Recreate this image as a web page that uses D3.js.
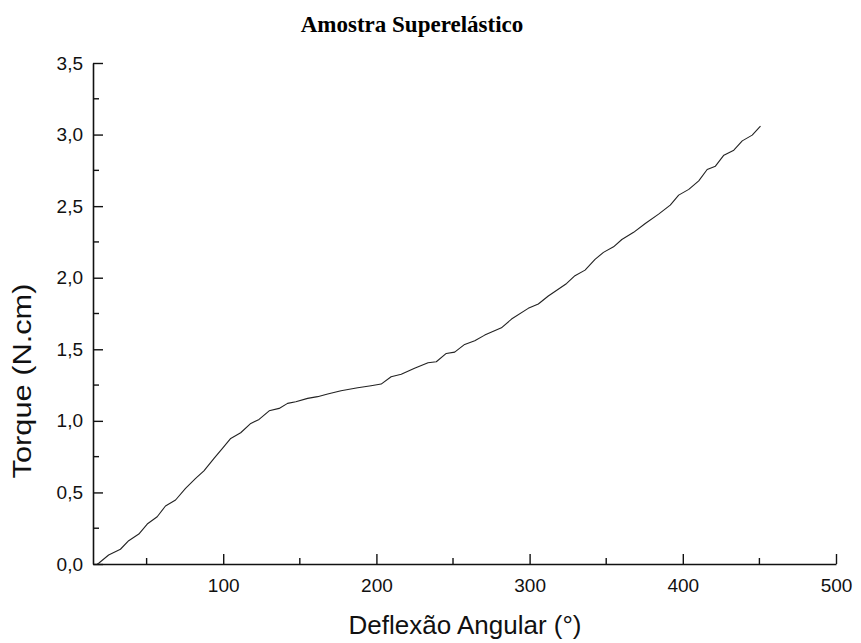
<!DOCTYPE html>
<html>
<head>
<meta charset="utf-8">
<script src="https://cdn.jsdelivr.net/npm/d3@7"></script>
<style>
  html, body { margin: 0; padding: 0; background: #fff; }
  svg { display: block; }
</style>
</head>
<body>
<script>
// Torque vs angular deflection, superelastic sample
const deflexao = [17.8, 18.7, 25.2, 32.9, 38.3, 44.9, 50.4, 56.9, 62.3, 68.9, 75.4, 82.0, 87.4, 94.0, 99.5,
  104.9, 111.4, 118.0, 123.4, 130.0, 136.5, 142.0, 147.4, 155.1, 161.6, 168.2, 176.9, 187.8, 196.5,
  203.1, 209.6, 216.2, 224.9, 233.7, 239.1, 245.6, 251.1, 257.6, 264.2, 270.7, 281.6, 288.2, 299.1,
  305.7, 312.2, 324.2, 329.6, 336.2, 342.7, 348.2, 354.8, 360.2, 367.9, 375.5, 384.2, 391.8, 397.3,
  403.9, 410.4, 415.9, 421.3, 426.8, 433.3, 438.8, 445.3, 450.7];
const torque = [0.0, 0.005, 0.063, 0.103, 0.163, 0.209, 0.279, 0.330, 0.405, 0.447, 0.529, 0.598, 0.651, 0.738, 0.808,
  0.877, 0.917, 0.982, 1.010, 1.070, 1.087, 1.122, 1.133, 1.157, 1.169, 1.187, 1.210, 1.231, 1.245,
  1.257, 1.308, 1.325, 1.367, 1.406, 1.413, 1.471, 1.480, 1.534, 1.559, 1.599, 1.650, 1.711, 1.786,
  1.816, 1.872, 1.960, 2.014, 2.053, 2.128, 2.177, 2.216, 2.267, 2.317, 2.379, 2.444, 2.507, 2.577,
  2.617, 2.677, 2.756, 2.779, 2.856, 2.891, 2.956, 2.996, 3.059];

const xMajorTicks = [100, 200, 300, 400, 500];
const xMinorTicks = [50, 150, 250, 350, 450];
const yMajorTicks = [0, 0.5, 1.0, 1.5, 2.0, 2.5, 3.0, 3.5];
const yMinorTicks = [0.25, 0.75, 1.25, 1.75, 2.25, 2.75, 3.25];

const titulo = "Amostra Superelástico";
const rotuloX = "Deflexão Angular (°)";
const rotuloY = "Torque (N.cm)";

const W = 861, H = 643;
const svg = d3.select("body").append("svg").attr("width", W).attr("height", H);

const x = d3.scaleLinear().domain([15, 500]).range([93, 836]);
const y = d3.scaleLinear().domain([0, 3.5]).range([564, 63]);

const ptBR = d3.formatLocale({ decimal: ",", thousands: ".", grouping: [3], currency: ["R$", ""] });
const fmtY = ptBR.format(".1f");

const axisColor = "#111";
const tickFont = "Liberation Sans, Arial, sans-serif";

// X axis: major ticks pointing inwards (upwards)
const gx = svg.append("g").attr("transform", `translate(0,${y(0)})`);
gx.call(d3.axisTop(x).tickValues(xMajorTicks).tickSize(10).tickSizeOuter(0).tickFormat(d3.format("d")));
gx.select(".domain").attr("stroke", axisColor).attr("stroke-width", 1.6);
gx.selectAll(".tick line").attr("stroke", axisColor).attr("stroke-width", 1.4);
gx.selectAll(".tick text")
  .attr("y", 28).attr("dy", null)
  .attr("font-family", tickFont).attr("font-size", 19).attr("fill", "#111");
gx.append("g").selectAll("line").data(xMinorTicks).join("line")
  .attr("x1", d => x(d)).attr("x2", d => x(d)).attr("y1", 0).attr("y2", -6)
  .attr("stroke", axisColor).attr("stroke-width", 1.4);

// Y axis: major ticks pointing inwards (right)
const gy = svg.append("g").attr("transform", `translate(${x(15)},0)`);
gy.call(d3.axisRight(y).tickValues(yMajorTicks).tickSize(10).tickSizeOuter(0).tickFormat(fmtY));
gy.select(".domain").attr("stroke", axisColor).attr("stroke-width", 1.6);
gy.selectAll(".tick line").attr("stroke", axisColor).attr("stroke-width", 1.4);
gy.selectAll(".tick text")
  .attr("x", -10).attr("text-anchor", "end")
  .attr("font-family", tickFont).attr("font-size", 19).attr("fill", "#111");
gy.append("g").selectAll("line").data(yMinorTicks).join("line")
  .attr("x1", 0).attr("x2", 6).attr("y1", d => y(d)).attr("y2", d => y(d))
  .attr("stroke", axisColor).attr("stroke-width", 1.4);

// Curve
const line = d3.line().x((d, i) => x(deflexao[i])).y(d => y(d));
svg.append("path")
  .datum(torque)
  .attr("d", line)
  .attr("fill", "none")
  .attr("stroke", "#222")
  .attr("stroke-width", 1.1)
  .attr("stroke-linejoin", "round");

// Title and axis labels
svg.append("text")
  .attr("x", 412).attr("y", 32)
  .attr("text-anchor", "middle")
  .attr("font-family", "Liberation Serif, 'Times New Roman', serif")
  .attr("font-weight", "bold").attr("font-size", 23)
  .attr("fill", "#000")
  .text(titulo);

svg.append("text")
  .attr("x", 465).attr("y", 634)
  .attr("text-anchor", "middle")
  .attr("font-family", tickFont).attr("font-size", 26)
  .attr("fill", "#111")
  .text(rotuloX);

svg.append("text")
  .attr("transform", "translate(31,381) rotate(-90)")
  .attr("text-anchor", "middle")
  .attr("font-family", tickFont).attr("font-size", 25)
  .attr("textLength", 195).attr("lengthAdjust", "spacingAndGlyphs")
  .attr("fill", "#111")
  .text(rotuloY);
</script>
</body>
</html>
